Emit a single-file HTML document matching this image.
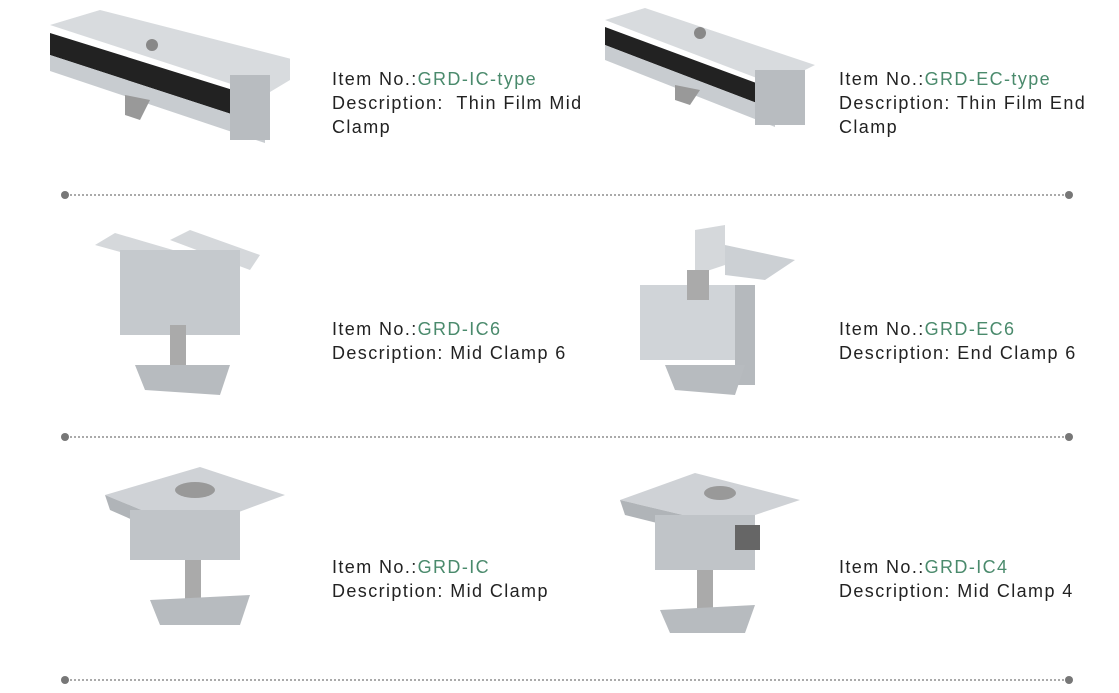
<!DOCTYPE html>
<html><head><meta charset="utf-8"><style>
body{margin:0;width:1119px;height:693px;background:#fff;position:relative;overflow:hidden;font-family:"Liberation Sans",sans-serif}
.t{position:absolute;font-size:18px;line-height:24px;color:#222;width:270px;letter-spacing:1.4px}
.t span{color:#4a8a6c}
.d{position:absolute;left:66px;width:1002px;height:0;border-top:2px dotted #aaa}
.dot{position:absolute;width:8px;height:8px;border-radius:50%;background:#777}
svg{position:absolute}
</style></head><body>

<div class="t" style="left:332px;top:67px">Item No.:<span>GRD-IC-type</span><br>Description:&nbsp; Thin Film Mid Clamp</div>
<div class="t" style="left:839px;top:67px">Item No.:<span>GRD-EC-type</span><br>Description: Thin Film End Clamp</div>
<div class="t" style="left:332px;top:317px">Item No.:<span>GRD-IC6</span><br>Description: Mid Clamp 6</div>
<div class="t" style="left:839px;top:317px">Item No.:<span>GRD-EC6</span><br>Description: End Clamp 6</div>
<div class="t" style="left:332px;top:555px">Item No.:<span>GRD-IC</span><br>Description: Mid Clamp</div>
<div class="t" style="left:839px;top:555px">Item No.:<span>GRD-IC4</span><br>Description: Mid Clamp 4</div>

<div class="d" style="top:194px"></div><div class="dot" style="left:61px;top:191px"></div><div class="dot" style="left:1065px;top:191px"></div>
<div class="d" style="top:436px"></div><div class="dot" style="left:61px;top:433px"></div><div class="dot" style="left:1065px;top:433px"></div>
<div class="d" style="top:679px"></div><div class="dot" style="left:61px;top:676px"></div><div class="dot" style="left:1065px;top:676px"></div>

<svg style="left:40px;top:5px" width="250" height="140">
<polygon points="10,20 60,5 275,60 225,90" fill="#d8dbde"/>
<polygon points="10,28 225,95 225,120 10,50" fill="#222"/>
<polygon points="10,50 225,120 225,138 10,66" fill="#c8ccd0"/>
<rect x="190" y="70" width="40" height="65" fill="#b8bcc0"/>
<circle cx="112" cy="40" r="6" fill="#888"/>
<polygon points="85,90 110,95 100,115 85,110" fill="#999"/>
</svg>
<svg style="left:600px;top:5px" width="220" height="130">
<polygon points="5,15 45,3 215,60 175,80" fill="#d8dbde"/>
<polygon points="5,22 175,85 175,105 5,40" fill="#222"/>
<polygon points="5,40 175,105 175,122 5,55" fill="#c8ccd0"/>
<rect x="155" y="65" width="50" height="55" fill="#b8bcc0"/>
<circle cx="100" cy="28" r="6" fill="#888"/>
<polygon points="75,80 100,85 90,100 75,95" fill="#999"/>
</svg>
<svg style="left:90px;top:225px" width="180" height="180">
<polygon points="5,20 25,8 100,30 95,45" fill="#d5d8db"/>
<polygon points="80,15 100,5 170,30 160,45" fill="#d5d8db"/>
<rect x="30" y="25" width="120" height="85" fill="#c5c9cd"/>
<rect x="80" y="100" width="16" height="45" fill="#aaa"/>
<polygon points="45,140 140,140 130,170 55,165" fill="#b7bbbf"/>
</svg>
<svg style="left:635px;top:225px" width="170" height="185">
<polygon points="60,5 90,0 90,40 60,50" fill="#d5d8db"/>
<polygon points="90,20 160,35 130,55 90,50" fill="#ccd0d4"/>
<rect x="5" y="60" width="110" height="75" fill="#d0d4d8"/>
<rect x="100" y="60" width="20" height="100" fill="#b5b9bd"/>
<rect x="52" y="45" width="22" height="30" fill="#aaa"/>
<polygon points="30,140 110,140 100,170 40,165" fill="#b7bbbf"/>
</svg>
<svg style="left:100px;top:465px" width="190" height="170">
<polygon points="5,30 100,2 185,30 90,65" fill="#cfd2d6"/>
<polygon points="5,30 90,65 90,80 10,45" fill="#b0b4b8"/>
<rect x="30" y="45" width="110" height="50" fill="#c0c4c8"/>
<ellipse cx="95" cy="25" rx="20" ry="8" fill="#999"/>
<rect x="85" y="95" width="16" height="45" fill="#aaa"/>
<polygon points="50,135 150,130 140,160 60,160" fill="#b7bbbf"/>
</svg>
<svg style="left:615px;top:465px" width="190" height="175">
<polygon points="5,35 80,8 185,35 110,60" fill="#cfd2d6"/>
<polygon points="5,35 110,60 110,75 10,50" fill="#b0b4b8"/>
<rect x="40" y="50" width="100" height="55" fill="#c0c4c8"/>
<rect x="120" y="60" width="25" height="25" fill="#666"/>
<ellipse cx="105" cy="28" rx="16" ry="7" fill="#999"/>
<rect x="82" y="105" width="16" height="45" fill="#aaa"/>
<polygon points="45,145 140,140 130,168 55,168" fill="#b7bbbf"/>
</svg>
</body></html>
